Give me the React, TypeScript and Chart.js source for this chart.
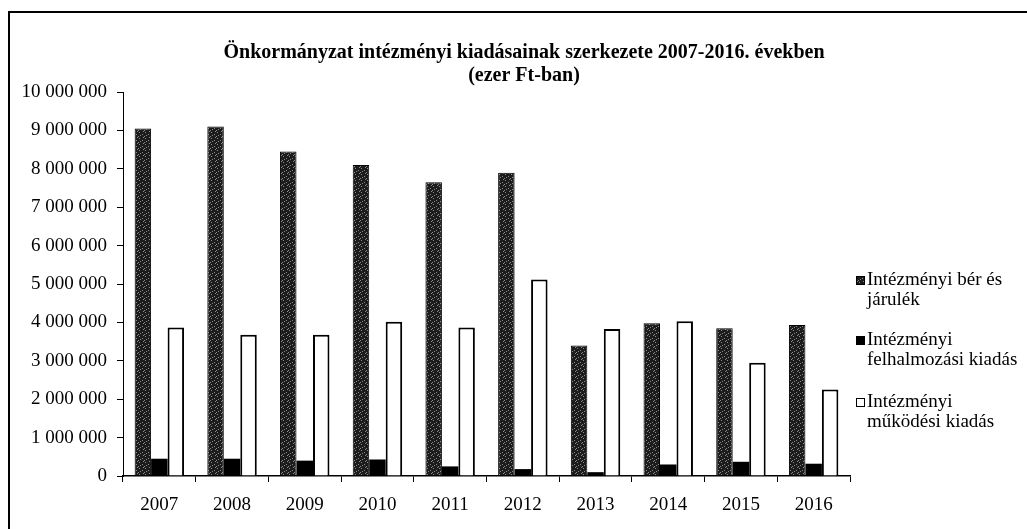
import React, { useEffect, useRef } from 'react';
import { Chart, registerables } from 'chart.js';

Chart.register(...registerables);

const years = ['2007', '2008', '2009', '2010', '2011', '2012', '2013', '2014', '2015', '2016'];
const berEsJarulek = [9050000, 9100000, 8450000, 8100000, 7650000, 7900000, 3400000, 3980000, 3850000, 3930000];
const felhalmozasi = [450000, 450000, 400000, 430000, 250000, 180000, 100000, 300000, 370000, 320000];
const mukodesi = [3870000, 3680000, 3680000, 4020000, 3870000, 5120000, 3830000, 4030000, 2950000, 2250000];
const yMin = 0;
const yMax = 10000000;
const yStep = 1000000;
const titleLines = ['Önkormányzat intézményi kiadásainak szerkezete 2007-2016. években', '(ezer Ft-ban)'];
const legendLabels = [
  ['Intézményi bér és', 'járulék'],
  ['Intézményi', 'felhalmozási kiadás'],
  ['Intézményi', 'működési kiadás'],
];

const FONT = "'Liberation Serif', 'Times New Roman', serif";
const W = 1027;
const H = 529;

// fixed speckle matrix for the scanned grey texture
const speckle = [
  [0, 1, 0, 0, 0, 0],
  [0, 0, 0, 0, 0, 0],
  [0, 0, 0, 0, 1, 0],
  [0, 0, 1, 0, 0, 0],
  [1, 0, 0, 0, 0, 0],
  [0, 0, 0, 0, 0, 1],
];

function makePattern(): CanvasPattern | string {
  const c = document.createElement('canvas');
  c.width = speckle[0].length;
  c.height = speckle.length;
  const g = c.getContext('2d');
  if (!g) return '#2a2a2a';
  g.fillStyle = '#1c1c1c';
  g.fillRect(0, 0, c.width, c.height);
  g.fillStyle = '#8a8a8a';
  speckle.forEach((row, y) => row.forEach((v, x) => { if (v) g.fillRect(x, y, 1, 1); }));
  const p = g.createPattern(c, 'repeat');
  return p || '#2a2a2a';
}

function fmt(v: number): string {
  return String(v).replace(/\B(?=(\d{3})+(?!\d))/g, ' ');
}

export default function App() {
  const ref = useRef<HTMLCanvasElement | null>(null);

  useEffect(() => {
    if (!ref.current) return;
    const grey = makePattern();
    const fills = [grey, '#000000', '#ffffff'];
    const borders = ['#000000', '#000000', '#000000'];
    const borderWidths = [1, 0, 2];

    const textPlugin = {
      id: 'textPlugin',
      afterDraw(chart: any) {
        const ctx = chart.ctx;
        ctx.save();
        ctx.fillStyle = '#000';
        ctx.textAlign = 'center';
        ctx.textBaseline = 'middle';
        ctx.font = `bold 20px ${FONT}`;
        ctx.fillText(titleLines[0], 524, 53);
        ctx.fillText(titleLines[1], 524, 76);

        ctx.font = `19px ${FONT}`;
        ctx.textAlign = 'left';
        const tops = [280, 340, 402];
        legendLabels.forEach((lines, i) => {
          const y0 = tops[i];
          ctx.fillStyle = fills[i] as any;
          ctx.fillRect(856, y0 - 4, 9, 9);
          if (i !== 1) {
            ctx.strokeStyle = '#000';
            ctx.lineWidth = 1;
            ctx.strokeRect(856.5, y0 - 3.5, 8, 8);
          }
          ctx.fillStyle = '#000';
          lines.forEach((t, j) => ctx.fillText(t, 867, y0 + j * 20.5));
        });
        ctx.restore();
      },
    };

    const chart = new Chart(ref.current, {
      type: 'bar',
      data: {
        labels: years,
        datasets: [
          { label: legendLabels[0].join(' '), data: berEsJarulek, backgroundColor: grey as any, borderColor: borders[0], borderWidth: borderWidths[0] },
          { label: legendLabels[1].join(' '), data: felhalmozasi, backgroundColor: '#000000', borderColor: borders[1], borderWidth: borderWidths[1] },
          { label: legendLabels[2].join(' '), data: mukodesi, backgroundColor: '#ffffff', borderColor: borders[2], borderWidth: borderWidths[2] },
        ],
      },
      options: {
        responsive: false,
        animation: false,
        devicePixelRatio: 1,
        datasets: { bar: { categoryPercentage: 0.68, barPercentage: 1.0 } },
        layout: { padding: { top: 92, right: 177, bottom: 0, left: 0 } },
        plugins: {
          legend: { display: false },
          title: { display: false },
          tooltip: { enabled: false },
        },
        scales: {
          x: {
            grid: { offset: true, drawOnChartArea: false, drawTicks: true, tickLength: 6, color: '#000' },
            border: { display: true, color: '#000', width: 1.5 },
            ticks: { color: '#000', font: { family: FONT, size: 19 }, padding: 12, maxRotation: 0 },
            afterFit(scale: any) { scale.height = H - 476; },
          },
          y: {
            min: yMin,
            max: yMax,
            grid: { drawOnChartArea: false, drawTicks: true, tickLength: 6, color: '#000' },
            border: { display: true, color: '#000', width: 1 },
            ticks: { stepSize: yStep, color: '#000', font: { family: FONT, size: 19 }, padding: 10, callback: (v: any) => fmt(Number(v)) },
            afterFit(scale: any) { scale.width = 123; },
          },
        },
      },
      plugins: [textPlugin],
    });
    return () => chart.destroy();
  }, []);

  return (
    <div style={{ position: 'fixed', left: 0, top: 0, width: W, height: H, background: '#fff' }}>
      <div style={{ position: 'absolute', left: 8, top: 11, width: W, height: H, borderLeft: '2px solid #000', borderTop: '2px solid #000' }} />
      <canvas ref={ref} width={W} height={H} style={{ position: 'absolute', left: 0, top: 0 }} />
    </div>
  );
}
